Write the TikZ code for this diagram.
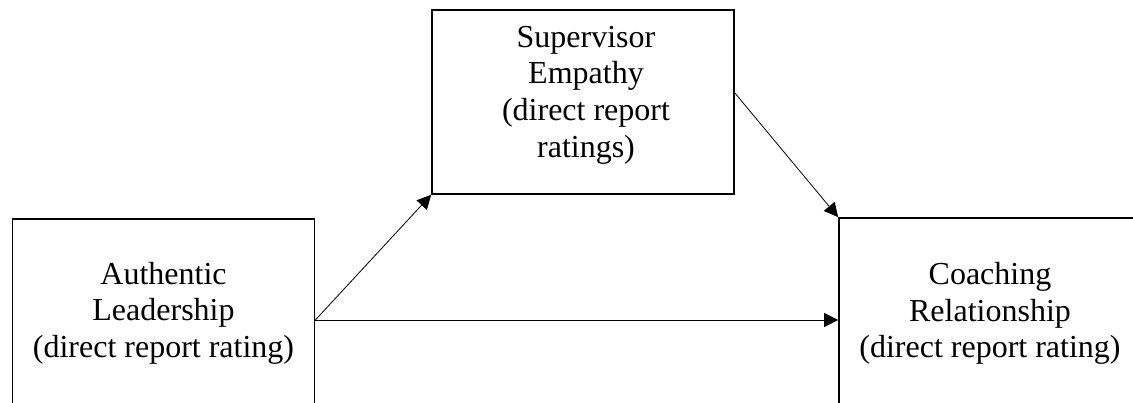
\documentclass[tikz,border=0pt]{standalone}
\usepackage{fontspec}
\setmainfont{Liberation Serif}
\usepackage{xcolor}
\usepackage{tikz}
\usetikzlibrary{arrows.meta}

\begin{document}
\begin{tikzpicture}[x=0.5pt,y=0.5pt,
  box/.style={draw, line width=0.85pt, minimum width=151pt},
  lbl/.style={align=center, font=\fontsize{16}{18.3}\selectfont},
  arr/.style={line width=0.4pt, -{Triangle[length=7pt,width=7pt]}}]
\useasboundingbox (0,0) rectangle (1133,402);
\clip (0,0) rectangle (1133,402);
\node[box, minimum height=101pt] (auth) at (163.5,82) {};
\node[lbl] (authtext) at (163.5,89) {Authentic\\Leadership\\(direct report rating)};
\node[box, minimum height=92pt] (emp) at (583,300) {};
\node[lbl] (emptext) at (586,307) {Supervisor\\Empathy\\(direct report\\ratings)};
\node[box, minimum height=102pt] (coach) at (990,82) {};
\node[lbl] (coachtext) at (990,88.5) {Coaching\\Relationship\\(direct report rating)};
\draw[arr] (auth.east) -- (emp.south west);
\draw[arr] (auth.east) -- (coach.west);
\draw[arr] ([yshift=4.5pt]emp.east) -- (coach.north west);
\end{tikzpicture}
\end{document}
